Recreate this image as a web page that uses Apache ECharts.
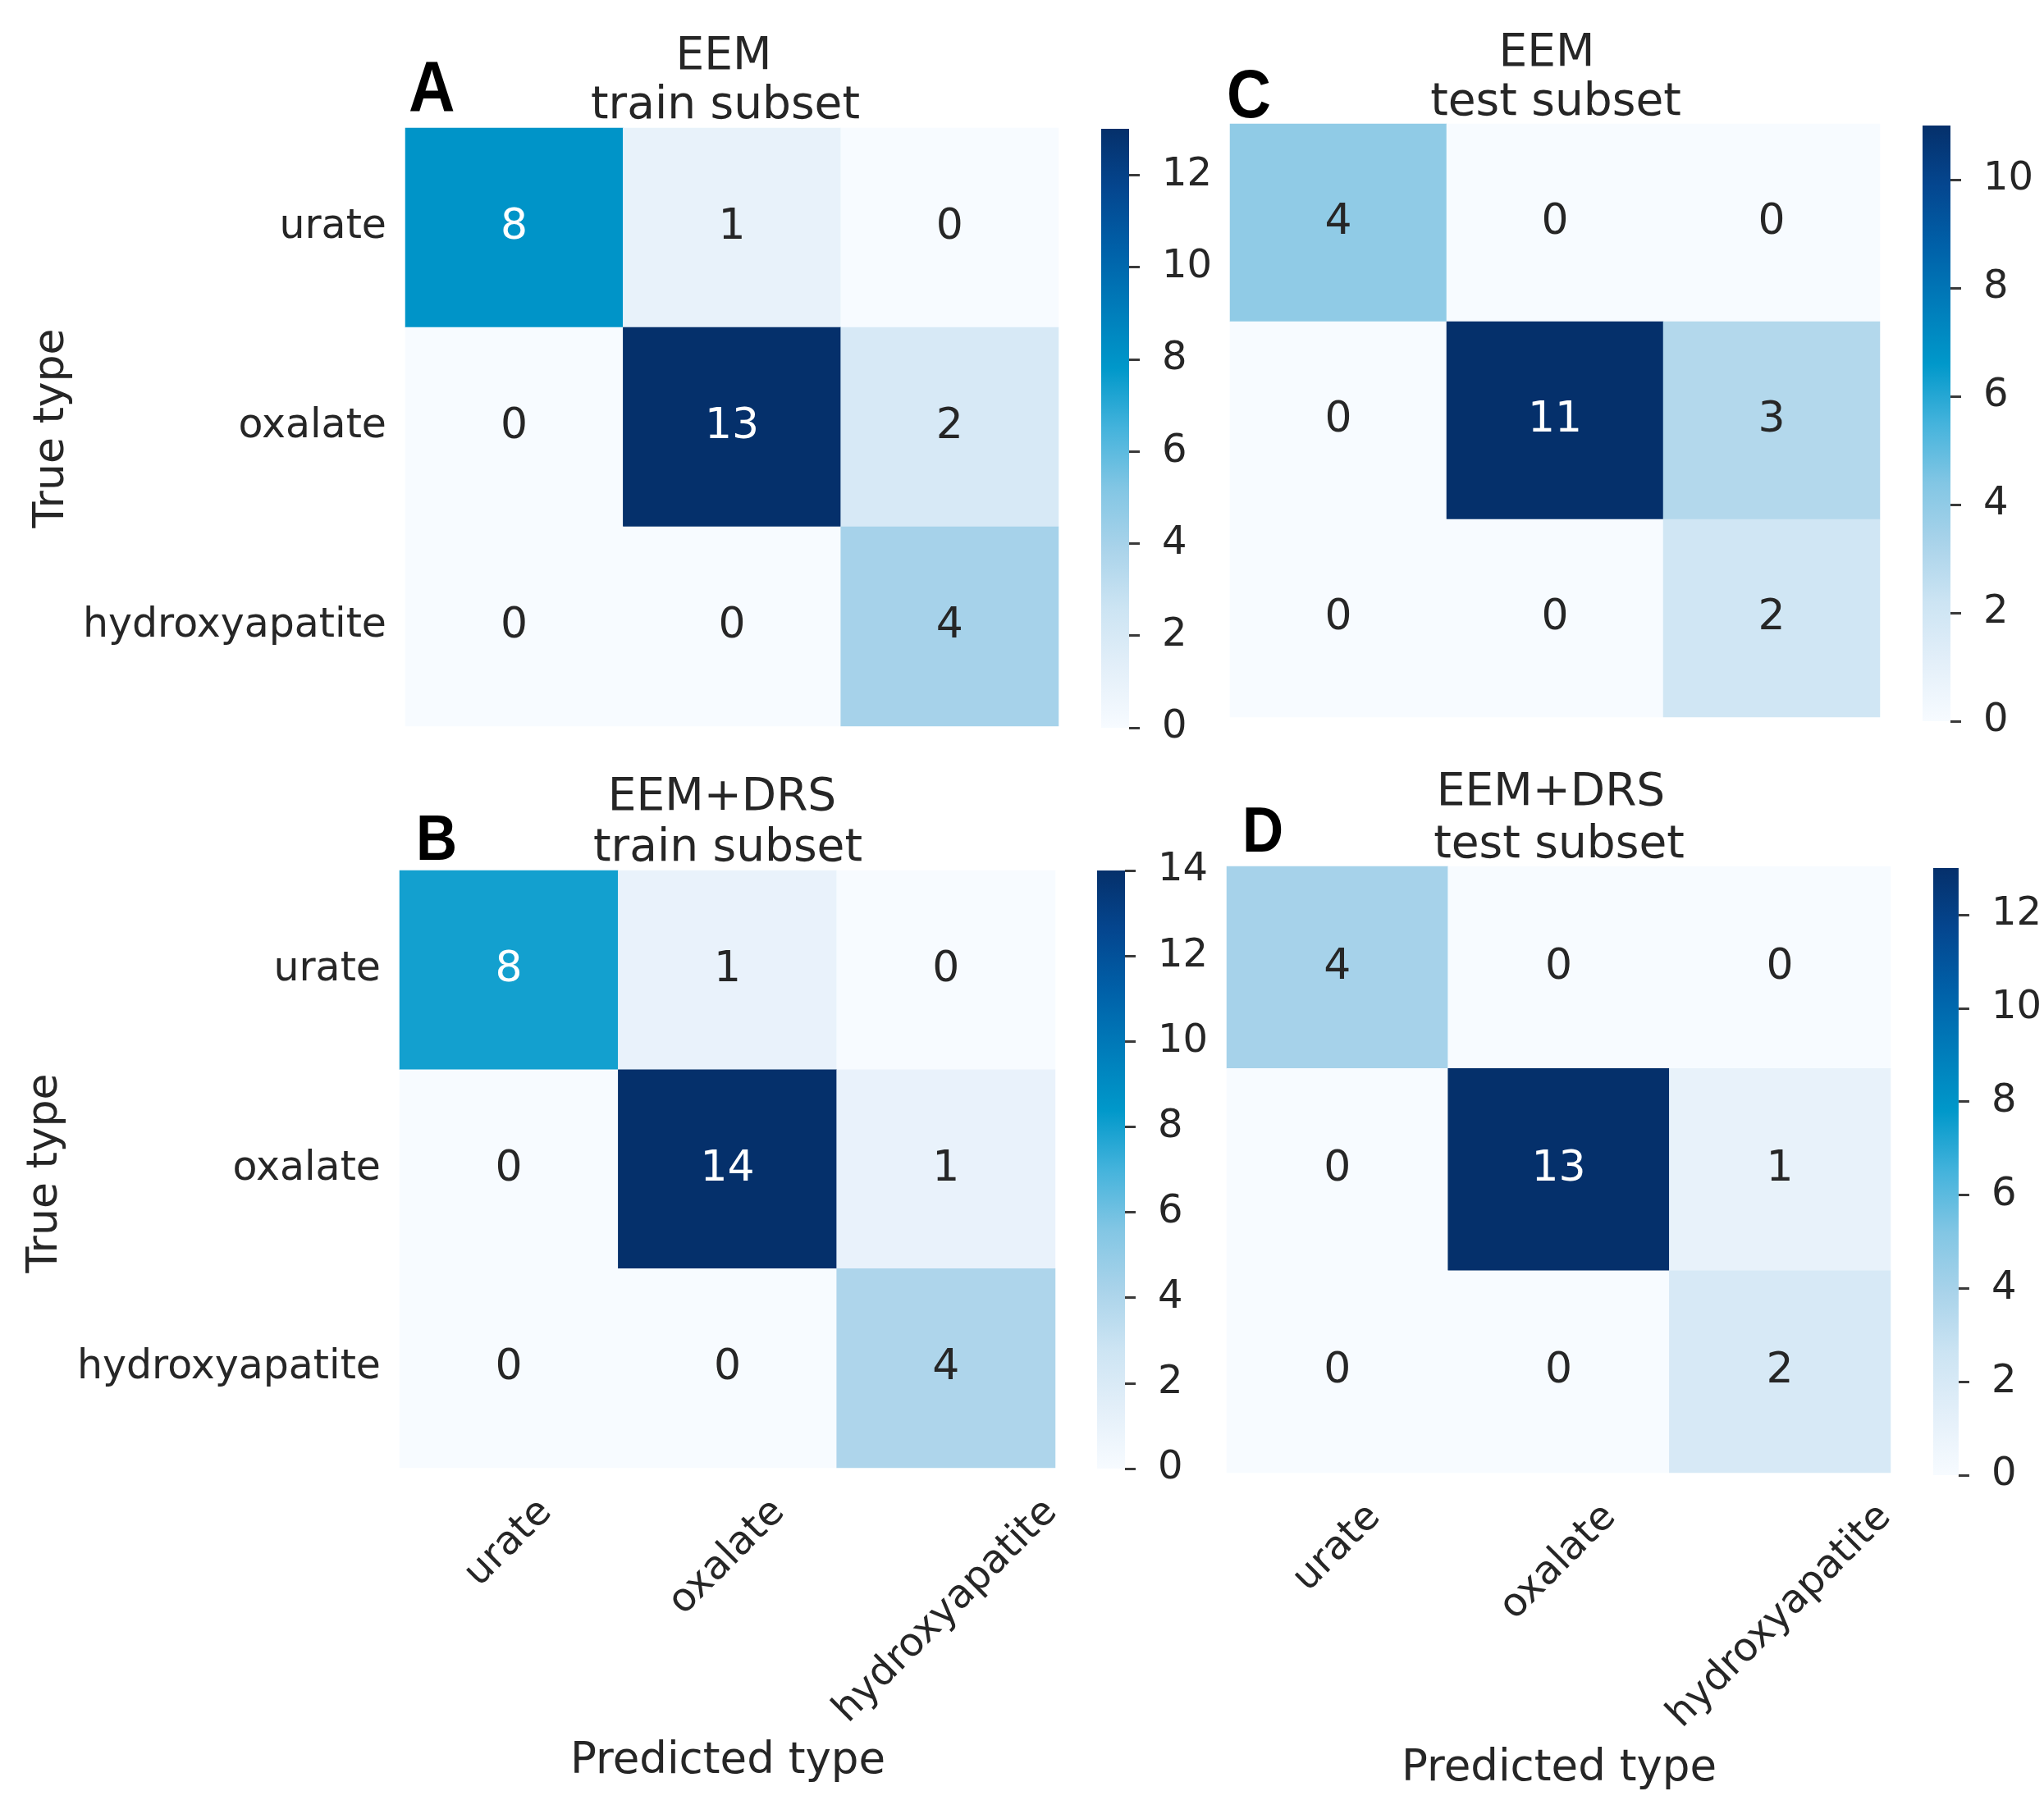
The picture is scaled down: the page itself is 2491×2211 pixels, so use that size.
<!DOCTYPE html>
<html><head><meta charset="utf-8">
<script src="https://cdn.jsdelivr.net/npm/echarts@6/dist/echarts.min.js"></script>
<style>html,body{margin:0;padding:0;background:#fff}#c{width:2491px;height:2211px}</style>
</head><body><div id="c"></div>
<script>
// ---- data ----
const categories = ['urate', 'oxalate', 'hydroxyapatite'];
// rows = true type, columns = predicted type
const eemTrain    = [[8, 1, 0], [0, 13, 2], [0, 0, 4]];
const eemTest     = [[4, 0, 0], [0, 11, 3], [0, 0, 2]];
const eemDrsTrain = [[8, 1, 0], [0, 14, 1], [0, 0, 4]];
const eemDrsTest  = [[4, 0, 0], [0, 13, 1], [0, 0, 2]];
const ticksA = [0, 2, 4, 6, 8, 10, 12];
const ticksC = [0, 2, 4, 6, 8, 10];
const ticksB = [0, 2, 4, 6, 8, 10, 12, 14];
const ticksD = [0, 2, 4, 6, 8, 10, 12];
const letters = ['A', 'C', 'B', 'D'];
const titleLine1 = ['EEM', 'EEM', 'EEM+DRS', 'EEM+DRS'];
const titleLine2 = ['train subset', 'test subset', 'train subset', 'test subset'];
const yName = 'True type';
const xName = 'Predicted type';
const blues = ['#f7fbff', '#e3eff9', '#cce4f3', '#a9d3ea', '#82c6e4', '#44b3dc',
               '#0098ca', '#007cba', '#0060a8', '#04468f', '#05306b'];

// ---- layout (styles / positions only) ----
const FONT = '"DejaVu Sans", sans-serif';
const TXT = '#262626';
const panels = [
  { m: eemTrain, ticks: ticksA, grid: {left: 494, top: 156, width: 796, height: 729},
    cb: {left: 1342, top: 157, width: 34, height: 730}, yLab: true, xLab: false,
    letter: {x: 498, y: 111, size: 88}, t1: {x: 882, y: 70}, t2: {x: 884, y: 130},
    yName: {x: 63, y: 522} },
  { m: eemTest, ticks: ticksC, grid: {left: 1499, top: 151, width: 792, height: 723},
    cb: {left: 2343, top: 153, width: 34, height: 726}, yLab: false, xLab: false,
    letter: {x: 1495, y: 120, size: 84}, t1: {x: 1885, y: 66}, t2: {x: 1896, y: 126} },
  { m: eemDrsTrain, ticks: ticksB, grid: {left: 487, top: 1061, width: 799, height: 728},
    cb: {left: 1337, top: 1061, width: 34, height: 729}, yLab: true, xLab: true,
    letter: {x: 507, y: 1026, size: 78}, t1: {x: 880, y: 973}, t2: {x: 887, y: 1035},
    yName: {x: 55, y: 1430}, xName: {x: 887, y: 2147} },
  { m: eemDrsTest, ticks: ticksD, grid: {left: 1495, top: 1056, width: 809, height: 739},
    cb: {left: 2356, top: 1058, width: 36, height: 740}, yLab: false, xLab: true,
    letter: {x: 1514, y: 1016, size: 78}, t1: {x: 1890, y: 967}, t2: {x: 1900, y: 1031},
    xName: {x: 1900, y: 2156} }
];

const grids = [], xAxes = [], yAxes = [], series = [], visualMaps = [];
panels.forEach((p, i) => {
  const maxV = Math.max(...p.m.flat());
  p.max = maxV;
  grids.push(Object.assign({}, p.grid));
  xAxes.push({ type: 'category', gridIndex: i, data: categories,
    axisLine: {show: false}, axisTick: {show: false}, axisLabel: {show: false}, splitLine: {show: false} });
  yAxes.push({ type: 'category', gridIndex: i, data: categories, inverse: true,
    axisLine: {show: false}, axisTick: {show: false}, splitLine: {show: false},
    axisLabel: {show: p.yLab, fontSize: 49, fontFamily: FONT, color: TXT, margin: 23} });
  const data = [];
  p.m.forEach((row, r) => row.forEach((v, c) => {
    data.push({ value: [c, r, v], label: { color: v / maxV > 0.5 ? '#ffffff' : TXT } });
  }));
  series.push({ type: 'heatmap', xAxisIndex: i, yAxisIndex: i, data: data,
    label: { show: true, fontSize: 52, fontFamily: FONT, formatter: (d) => String(d.value[2]) },
    itemStyle: { borderWidth: 0 }, emphasis: { disabled: true }, silent: true });
  visualMaps.push({ type: 'continuous', show: false, min: 0, max: maxV, dimension: 2,
    seriesIndex: i, inRange: { color: blues } });
});
// colorbars
panels.forEach((p, i) => {
  const gi = 4 + i;
  grids.push(Object.assign({}, p.cb));
  xAxes.push({ type: 'category', gridIndex: gi, data: ['cb'], show: false });
  yAxes.push({ type: 'value', gridIndex: gi, position: 'right', min: 0, max: p.max,
    axisLine: {show: false}, splitLine: {show: false},
    axisTick: {show: true, inside: false, length: 13, lineStyle: {color: '#3a3a3a', width: 3}, customValues: p.ticks},
    axisLabel: {show: true, fontSize: 48, fontFamily: FONT, color: TXT, margin: 40, customValues: p.ticks} });
  const stops = blues.map((c, k) => ({ offset: k / (blues.length - 1), color: c }));
  series.push({ type: 'bar', xAxisIndex: gi, yAxisIndex: gi, data: [p.max], barWidth: '100%',
    silent: true, itemStyle: { color: new echarts.graphic.LinearGradient(0, 1, 0, 0, stops) } });
});

const chart = echarts.init(document.getElementById('c'), null, {renderer: 'canvas'});
chart.setOption({
  backgroundColor: '#ffffff', animation: false,
  grid: grids, xAxis: xAxes, yAxis: yAxes, visualMap: visualMaps, series: series
});

// ---- text elements ----
const ctx = document.createElement('canvas').getContext('2d');
ctx.font = '48px ' + FONT;
const elements = [];
panels.forEach((p, i) => {
  elements.push({ type: 'text', x: p.letter.x, y: p.letter.y, scaleX: 0.89, silent: true,
    style: { text: letters[i], fontSize: p.letter.size, fontWeight: 'bold', fontFamily: '"Liberation Sans", Arial, sans-serif',
      fill: '#000', align: 'left', verticalAlign: 'middle' } });
  elements.push({ type: 'text', x: p.t1.x, y: p.t1.y, silent: true,
    style: { text: titleLine1[i], fontSize: 55, fontFamily: FONT, fill: TXT, align: 'center', verticalAlign: 'middle' } });
  elements.push({ type: 'text', x: p.t2.x, y: p.t2.y, silent: true,
    style: { text: titleLine2[i], fontSize: 55, fontFamily: FONT, fill: TXT, align: 'center', verticalAlign: 'middle' } });
  if (p.yName) {
    elements.push({ type: 'text', x: p.yName.x, y: p.yName.y, rotation: Math.PI / 2, silent: true,
      style: { text: yName, fontSize: 52, fontFamily: FONT, fill: TXT, align: 'center', verticalAlign: 'middle' } });
  }
  if (p.xName) {
    elements.push({ type: 'text', x: p.xName.x, y: p.xName.y, silent: true,
      style: { text: xName, fontSize: 53, fontFamily: FONT, fill: TXT, align: 'center', verticalAlign: 'middle' } });
  }
  if (p.xLab) {
    const bottom = p.grid.top + p.grid.height;
    const top = bottom + 41;
    categories.forEach((cat) => {
      const px = chart.convertToPixel({xAxisIndex: i}, cat);
      const w = ctx.measureText(cat).width;
      const cy = top + (w / 2 + 0.17 * 48) / Math.SQRT2;
      elements.push({ type: 'text', x: px, y: cy, rotation: Math.PI / 4, silent: true,
        style: { text: cat, fontSize: 48, fontFamily: FONT, fill: TXT, align: 'center', verticalAlign: 'middle' } });
    });
  }
});
chart.setOption({ graphic: { elements: elements } });
</script>
</body></html>
